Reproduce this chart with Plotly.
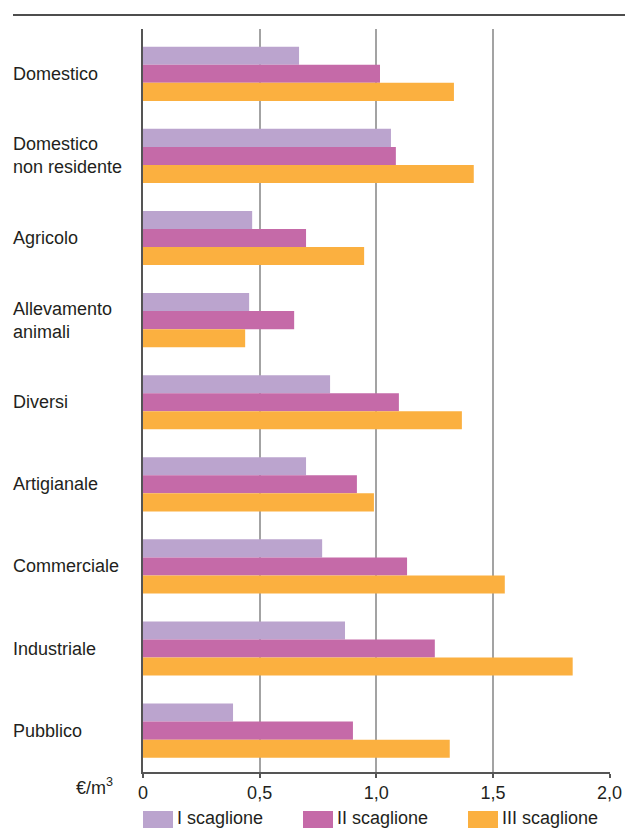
import plotly.graph_objects as go

categories = ["Domestico", "Domestico<br>non residente", "Agricolo", "Allevamento<br>animali",
              "Diversi", "Artigianale", "Commerciale", "Industriale", "Pubblico"]
series_names = ["I scaglione", "II scaglione", "III scaglione"]
scaglione_1 = [0.669, 1.063, 0.468, 0.455, 0.802, 0.699, 0.768, 0.866, 0.386]
scaglione_2 = [1.016, 1.084, 0.699, 0.648, 1.097, 0.917, 1.132, 1.251, 0.900]
scaglione_3 = [1.333, 1.418, 0.948, 0.438, 1.367, 0.990, 1.551, 1.842, 1.315]
tick_vals = [0, 0.5, 1.0, 1.5, 2.0]
tick_text = ["0", "0,5", "1,0", "1,5", "2,0"]
unit_label = "€/m<sup>3</sup>"

colors = ["#BBA4CE", "#C56AA8", "#FBB040"]
FONT = "Liberation Sans, Arial, sans-serif"
TXT = "#231f20"
FS = 18

fig = go.Figure()
ypos = list(range(len(categories)))
for name, vals, col in zip(series_names, [scaglione_1, scaglione_2, scaglione_3], colors):
    fig.add_trace(go.Bar(y=ypos, x=vals, name=name, orientation="h",
                         marker=dict(color=col, line=dict(width=0)), showlegend=False))

W, H = 625, 828
L, R, T, B = 143, 15, 29, 56
pw, ph = W - L - R, H - T - B

def px_x(p):
    return (p - L) / pw

def px_y(p):
    return (H - B - p) / ph

fig.update_layout(
    width=W, height=H,
    margin=dict(l=L, r=R, t=T, b=B, autoexpand=False),
    barmode="group", bargap=0.34, bargroupgap=0,
    plot_bgcolor="white", paper_bgcolor="white",
    font=dict(family=FONT, size=FS, color=TXT),
    xaxis=dict(range=[0, 2.002], tickvals=tick_vals, ticktext=tick_text, automargin=False,
               showgrid=True, gridcolor="#a3a3a3", gridwidth=1.5,
               zeroline=False, showline=True, linecolor="#555555", linewidth=1.5,
               ticks="outside", ticklen=4, tickcolor="#555555", tickwidth=1.5,
               tickfont=dict(size=FS, family=FONT, color=TXT), fixedrange=True),
    yaxis=dict(range=[8.504, -0.546], showticklabels=False, showgrid=False, automargin=False,
               zeroline=False, showline=True, linecolor="#555555", linewidth=2,
               ticks="", fixedrange=True),
)

# category labels, left aligned
for i, c in enumerate(categories):
    fig.add_annotation(x=px_x(11), xref="paper", xanchor="left", y=i, yref="y",
                       text=c, showarrow=False, align="left",
                       font=dict(size=FS, family=FONT, color=TXT))

# unit label
fig.add_annotation(x=px_x(115), xref="paper", xanchor="right", y=px_y(786), yref="paper",
                   yanchor="middle", text=unit_label, showarrow=False,
                   font=dict(size=FS, family=FONT, color=TXT))

# top rule
fig.add_shape(type="line", xref="paper", yref="paper", x0=px_x(13), x1=px_x(625),
              y0=px_y(15), y1=px_y(15), line=dict(color="#4d4d4d", width=2))

# custom legend
leg_x = [143, 303, 468]
for name, col, x in zip(series_names, colors, leg_x):
    fig.add_shape(type="rect", xref="paper", yref="paper", x0=px_x(x), x1=px_x(x + 30),
                  y0=px_y(811), y1=px_y(830), fillcolor=col, line=dict(width=0))
    fig.add_annotation(x=px_x(x + 32), xref="paper", xanchor="left", y=px_y(818), yref="paper",
                       yanchor="middle", text=name, showarrow=False,
                       font=dict(size=FS, family=FONT, color=TXT))

fig.write_html("out.html", config={"displayModeBar": False},
               post_script="document.body.style.margin='0';document.body.style.overflow='hidden';")
